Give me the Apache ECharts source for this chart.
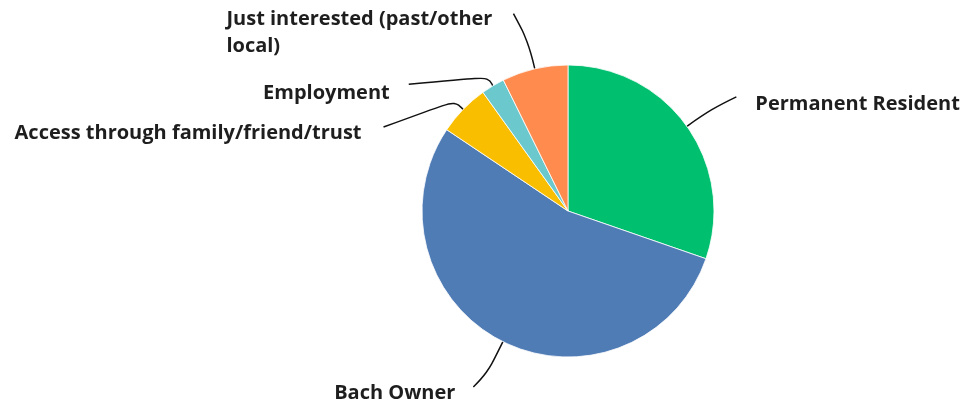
<!DOCTYPE html>
<html>
<head>
<meta charset="utf-8">
<script src="https://cdn.jsdelivr.net/npm/echarts@6/dist/echarts.min.js"></script>
<style>
  html, body { margin: 0; padding: 0; background: #fff; }
  #chart { width: 968px; height: 404px; }
</style>
</head>
<body>
<div id="chart"></div>
<script>
// data
const categories = [
  'Permanent Resident',
  'Bach Owner',
  'Access through family/friend/trust',
  'Employment',
  'Just interested (past/other local)'
];
const shares = [30.3, 54.1, 5.7, 2.6, 7.3];
const colors = ['#00BF6F', '#507CB6', '#F9BE00', '#6BC8CD', '#FF8B4F'];

// leader line per slice: radial length, end offset from the bend, gap from line end to text
const guides = [
  { len: 30, end: [25, -12], gap: [19, 7], align: 'left' },
  { len: 35, end: [-14, 14], gap: [-18, 6], align: 'right' },
  { len: 12, end: [-71, 26], gap: [-22, 6], align: 'right' },
  { len: 10, end: [-79, 7], gap: [-19, 9], align: 'right' },
  { len: 28, end: [-15, -28], gap: [-21, 19], align: 'block' }
];

// wrap the long label onto two lines at the last space
const wrapLast = (s) => {
  const i = s.lastIndexOf(' ');
  return s.slice(0, i) + '\n' + s.slice(i + 1);
};

const chart = echarts.init(document.getElementById('chart'));

chart.setOption({
  animation: false,
  series: [
    {
      type: 'pie',
      center: [568, 211],
      radius: 146,
      startAngle: 90,
      clockwise: true,
      avoidLabelOverlap: false,
      itemStyle: { borderColor: '#fff', borderWidth: 0.8 },
      label: {
        fontFamily: 'Open Sans',
        fontWeight: 'bold',
        fontSize: 20,
        lineHeight: 27,
        color: '#1e1e1e',
        formatter: (p) => (p.dataIndex === 4 ? wrapLast(p.name) : p.name)
      },
      labelLine: {
        show: true,
        smooth: 0.4,
        lineStyle: { color: '#111', width: 1.5 }
      },
      emphasis: { disabled: true },
      data: categories.map((name, i) => ({
        name,
        value: shares[i],
        itemStyle: { color: colors[i] },
        labelLine: { length: guides[i].len, length2: 1 }
      })),
      labelLayout(params) {
        const g = guides[params.dataIndex];
        const pts = params.labelLinePoints;
        if (!pts) return {};
        const bend = pts[1];
        const end = [bend[0] + g.end[0], bend[1] + g.end[1]];
        let x = end[0] + g.gap[0];
        let align = g.align;
        if (align === 'block') {
          x -= params.labelRect.width;
          align = 'left';
        }
        return {
          x,
          y: end[1] + g.gap[1],
          align,
          verticalAlign: 'middle',
          labelLinePoints: [pts[0], bend, end]
        };
      }
    }
  ]
});
</script>
</body>
</html>
